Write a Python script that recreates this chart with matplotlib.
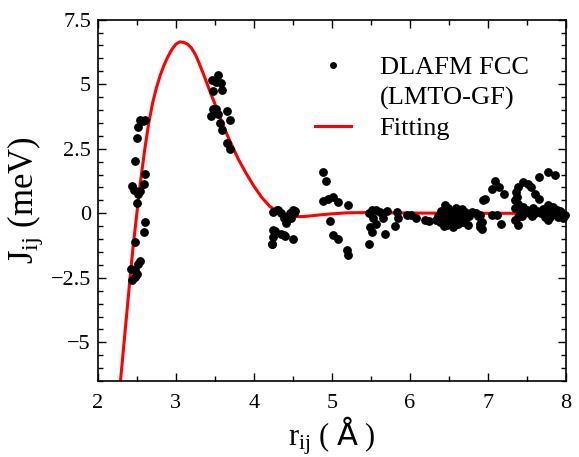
import matplotlib
matplotlib.use("Agg")
import matplotlib.pyplot as plt
from matplotlib.ticker import MultipleLocator
from matplotlib.lines import Line2D
import numpy as np

plt.rcParams['font.family'] = 'Liberation Serif'
plt.rcParams['mathtext.fontset'] = 'custom'
plt.rcParams['mathtext.rm'] = 'Liberation Serif'
plt.rcParams['mathtext.it'] = 'Liberation Serif:italic'
plt.rcParams['mathtext.sf'] = 'DejaVu Sans'

# LMTO-GF exchange points (r in Angstrom, J in meV)
r_data = [2.54, 2.58, 2.60, 2.52, 2.50, 2.48, 2.61, 2.59, 2.44, 2.46, 2.54, 2.52, 2.50,
          2.61, 2.59, 2.48, 2.54, 2.52, 2.43, 2.47, 2.50, 2.44, 2.47,
          3.46, 3.54, 3.58, 3.51, 3.47, 3.59, 3.48, 3.52, 3.54, 3.45, 3.66, 3.70, 3.57,
          3.59, 3.66, 3.69,
          4.25, 4.31, 4.35, 4.38, 4.50, 4.52, 4.48, 4.25, 4.27, 4.35, 4.40, 4.50, 4.25,
          4.23, 4.23, 4.29, 4.41, 4.46, 4.53, 4.38,
          4.89, 4.92, 4.89, 4.95, 5.02, 5.08, 5.20, 4.97, 5.02, 5.08, 5.19, 5.21,
          5.47, 5.57, 5.62, 5.53, 5.49, 5.51, 5.47, 5.68, 5.66, 5.70, 5.83, 5.85, 5.81,
          5.56, 5.51, 5.96, 6.02, 6.08, 6.19, 6.24,
          6.45, 6.49, 6.43, 6.47, 6.51, 6.55, 6.58, 6.60, 6.64, 6.66, 6.68, 6.70, 6.72,
          6.62, 6.34, 6.38, 6.51, 6.74, 6.85, 6.87, 6.90, 6.92, 6.53, 6.71, 6.69,
          6.40, 6.42, 6.48, 6.56, 6.59, 6.63, 6.67, 6.69, 6.76, 6.80, 6.36, 6.44, 6.57, 6.61,
          6.90, 6.94, 6.96, 7.05, 7.09, 7.14, 7.20, 7.05, 7.11, 7.17, 6.90, 6.92,
          7.36, 7.39, 7.45, 7.51, 7.55, 7.65, 7.77, 7.86, 7.60, 7.65, 7.35, 7.35, 7.39,
          7.35, 7.37, 7.39, 7.41, 7.47, 7.53, 7.60, 7.68, 7.73, 7.77, 7.81, 7.86, 7.90,
          7.94, 7.99, 7.77, 7.39, 7.75, 7.88,
          7.43, 7.50, 7.57, 7.63, 7.70, 7.80, 7.84, 7.92, 7.96, 7.45, 7.58]
J_data = [3.60, 3.58, 3.60, 3.35, 2.93, 2.03, 1.51, 1.15, 1.07, 0.92, 0.87, 0.76, 0.38,
          -0.32, -0.72, -1.10, -1.85, -1.97, -2.14, -2.20, -2.35, -2.60, -2.47,
          5.16, 5.34, 5.05, 5.10, 4.74, 4.77, 4.04, 4.04, 3.84, 3.76, 3.97, 3.63, 3.50,
          3.24, 2.73, 2.49,
          0.05, 0.14, 0.00, -0.20, 0.12, 0.00, -0.20, -0.63, -0.70, -0.79, -0.89, -0.98, -0.90,
          -1.20, -1.17, 0.14, -0.38, 0.00, 0.09, -0.85,
          1.59, 1.25, 0.48, 0.57, 0.63, 0.44, 0.34, -0.31, -0.85, -0.98, -1.43, -1.63,
          0.00, 0.12, 0.05, -0.20, -0.53, -0.73, -1.18, -0.79, -0.20, 0.10, 0.05, -0.20, -0.50,
          -0.40, 0.14, -0.05, -0.08, -0.17, -0.27, -0.30,
          0.31, 0.22, -0.08, -0.27, -0.40, -0.53, 0.05, -0.15, 0.12, -0.08, -0.34, 0.05, -0.20,
          -0.40, -0.27, -0.34, 0.00, -0.47, 0.00, -0.12, -0.40, -0.60, -0.12, -0.08, -0.34,
          0.10, -0.20, -0.45, -0.25, 0.20, -0.25, 0.18, -0.10, -0.10, 0.05, -0.10, -0.50, -0.40, -0.05,
          -0.08, 0.50, 0.57, 0.96, 1.25, 1.02, 0.76, -0.08, -0.08, -0.40, -0.53, -0.34,
          0.83, 1.02, 1.21, 1.15, 1.02, 1.41, 1.60, 1.47, 0.74, 0.57, 0.50, 0.20, -0.47,
          -0.27, 0.63, 0.37, 0.05, 0.05, 0.00, 0.00, 0.00, -0.14, 0.31, 0.18, 0.00, -0.14,
          0.05, -0.08, -0.27, -0.14, 0.00, 0.12,
          -0.10, 0.12, -0.10, 0.10, 0.15, -0.15, 0.25, 0.10, -0.20, 0.25, 0.20]

# fitted curve, sampled along the red line
r_fit = [2.27, 2.29, 2.33, 2.37, 2.41, 2.45, 2.50, 2.55, 2.60, 2.65, 2.70, 2.75, 2.80,
         2.85, 2.90, 2.95, 3.00, 3.05, 3.10, 3.15, 3.20, 3.25, 3.30, 3.35, 3.40, 3.45,
         3.50, 3.55, 3.60, 3.65, 3.70, 3.80, 3.90, 4.00, 4.10, 4.20, 4.30, 4.40, 4.50,
         4.60, 4.70, 4.85, 5.00, 5.20, 5.50, 6.00, 7.00, 8.00]
J_fit = [-7.2, -6.5, -5.2, -3.9, -2.6, -1.35, 0.0, 1.3, 2.45, 3.45, 4.25, 4.85, 5.35,
         5.75, 6.08, 6.35, 6.55, 6.64, 6.62, 6.55, 6.40, 6.15, 5.80, 5.42, 5.02, 4.62,
         4.24, 3.85, 3.46, 3.09, 2.75, 2.10, 1.55, 1.05, 0.62, 0.28, 0.06, -0.06, -0.12,
         -0.13, -0.11, -0.06, -0.02, 0.02, 0.03, 0.01, 0.0, 0.0]

fig = plt.figure(figsize=(5.79, 4.57), dpi=100)
ax = fig.add_axes([0.169, 0.166, 0.8085, 0.791])

pts, = ax.plot(r_data, J_data, 'o', color='black', markersize=5.3, clip_on=False, zorder=3)
fit, = ax.plot(r_fit, J_fit, '-', color='red', linewidth=2.2, zorder=2)

ax.set_xlim(2, 8)
ax.set_ylim(-6.5, 7.5)
ax.xaxis.set_major_locator(MultipleLocator(1))
ax.xaxis.set_minor_locator(MultipleLocator(0.5))
ax.yaxis.set_minor_locator(MultipleLocator(0.5))
ax.set_yticks([-5, -2.5, 0, 2.5, 5, 7.5])
ax.set_yticklabels(['\u22125', '\u22122.5', '0', '2.5', '5', '7.5'])
ax.tick_params(which='both', direction='in', top=True, right=True, labelsize=16)
ax.tick_params(which='major', length=6, width=1)
ax.tick_params(axis='x', which='major', pad=9)
ax.tick_params(axis='y', which='major', pad=5)
ax.tick_params(which='minor', length=3.5, width=1)
for s in ax.spines.values():
    s.set_linewidth(1.2)

ax.set_xlabel(r'r$_{\mathrm{ij}}$ ( $\mathsf{Å}$ )', fontsize=22, labelpad=1)
ax.set_ylabel(r'J$_{\mathrm{ij}}$ (meV)', fontsize=25, labelpad=4)

blank = Line2D([], [], linestyle='none', marker='none')
ax.legend([pts, blank, fit], ['DLAFM FCC', '(LMTO-GF)', 'Fitting'],
          loc='upper left', bbox_to_anchor=(0.4637, 0.901), frameon=False, fontsize=19,
          handlelength=1.35, handletextpad=1.1, labelspacing=0.26, borderaxespad=0,
          borderpad=0, markerscale=0.75)

fig.savefig('out.png', dpi=100)
